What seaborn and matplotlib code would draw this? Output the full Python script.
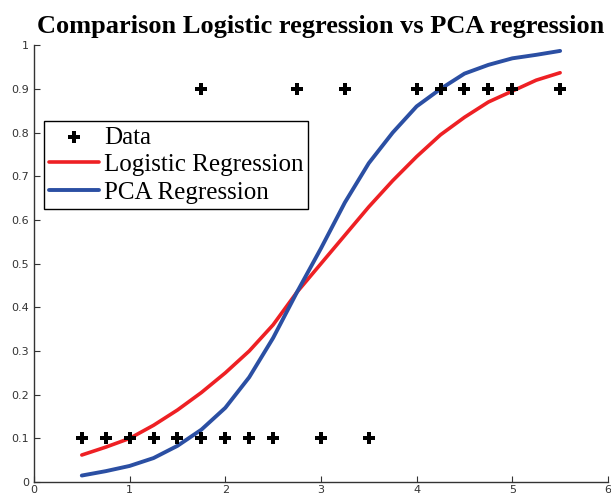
import numpy as np
import pandas as pd
import matplotlib
matplotlib.use("Agg")
import matplotlib.pyplot as plt
import seaborn as sns

# Data points (class labels shown at 0.1 / 0.9)
data_x = [0.5, 0.75, 1.0, 1.25, 1.5, 1.75, 2.0, 2.25, 2.5, 3.0, 3.5,
          1.75, 2.75, 3.25, 4.0, 4.25, 4.5, 4.75, 5.0, 5.5]
data_y = [0.1] * 11 + [0.9] * 9

# Fitted curves
curve_x = [0.5, 0.75, 1.0, 1.25, 1.5, 1.75, 2.0, 2.25, 2.5, 2.75, 3.0,
           3.25, 3.5, 3.75, 4.0, 4.25, 4.5, 4.75, 5.0, 5.25, 5.5]
logistic_y = [0.062, 0.08, 0.10, 0.13, 0.165, 0.205, 0.25, 0.30, 0.36, 0.435, 0.50,
              0.565, 0.63, 0.69, 0.745, 0.795, 0.835, 0.87, 0.895, 0.92, 0.937]
pca_y = [0.015, 0.025, 0.037, 0.055, 0.083, 0.12, 0.17, 0.24, 0.33, 0.435, 0.535,
         0.64, 0.73, 0.80, 0.86, 0.90, 0.935, 0.955, 0.97, 0.978, 0.987]

sns.set_style("ticks")
plt.rcParams["font.family"] = ["DejaVu Sans"]

fig = plt.figure(figsize=(6.11, 4.97), dpi=100)
ax = fig.add_axes([0.0556, 0.03, 0.9394, 0.879])

points = pd.DataFrame({"x": data_x, "y": data_y})
curves = pd.DataFrame({"x": curve_x, "logistic": logistic_y, "pca": pca_y})

sns.lineplot(data=curves, x="x", y="logistic", ax=ax, color="#ee2024",
             linewidth=2.6, label="Logistic Regression", sort=False)
sns.lineplot(data=curves, x="x", y="pca", ax=ax, color="#2b4fa3",
             linewidth=2.8, label="PCA Regression", sort=False)
sns.scatterplot(data=points, x="x", y="y", ax=ax, marker="P", color="black",
                s=80, linewidth=0, label="Data", zorder=5)

ax.set_xlim(0, 6)
ax.set_ylim(0, 1)
ax.set_xticks(range(0, 7))
ax.set_yticks(np.round(np.arange(0, 1.01, 0.1), 1))
ax.set_yticklabels(["0", "0.1", "0.2", "0.3", "0.4", "0.5", "0.6", "0.7", "0.8", "0.9", "1"])
ax.tick_params(direction="in", labelsize=8, colors="#333333", length=4, width=0.8)
ax.tick_params(axis="x", pad=2)
ax.set_xlabel("")
ax.set_ylabel("")
sns.despine(ax=ax)
for sp in ax.spines.values():
    sp.set_color("#333333")
    sp.set_linewidth(1)

ax.set_title("Comparison Logistic regression vs PCA regression", color="black",
             fontfamily="Liberation Serif", fontweight="bold", fontsize=19, pad=9)

handles, labels = ax.get_legend_handles_labels()
order = [labels.index("Data"), labels.index("Logistic Regression"), labels.index("PCA Regression")]
leg = ax.legend([handles[i] for i in order], [labels[i] for i in order],
                loc="upper left", bbox_to_anchor=(0.017, 0.826), borderaxespad=0,
                prop={"family": "Liberation Serif", "size": 18}, fancybox=False,
                framealpha=1, edgecolor="black", handlelength=2.0,
                handletextpad=0.2, labelspacing=0.2, borderpad=0.2)
leg.get_frame().set_linewidth(1)
for t in leg.get_texts():
    t.set_color("black")

fig.savefig("out.png", dpi=100)
